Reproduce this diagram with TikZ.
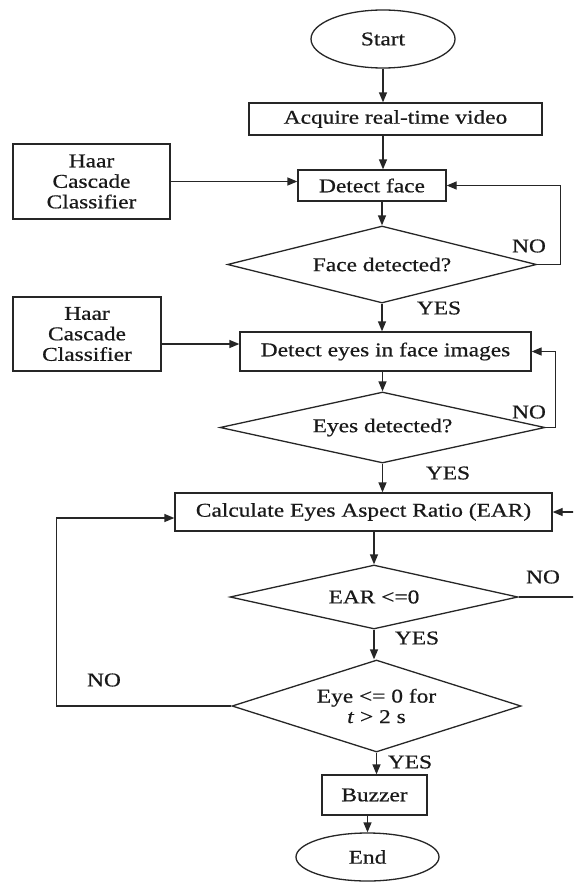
\documentclass[tikz,border=0pt]{standalone}
\usepackage{fontspec}
\setmainfont[FakeStretch=1.2,FakeBold=0.6]{Liberation Serif}
\usetikzlibrary{arrows.meta,shapes.geometric}
\begin{document}
\begin{tikzpicture}[x=1pt,y=-1pt,
  every node/.style={font=\fontsize{19.5}{20.5}\selectfont, text=black!90},
  line width=1.3pt, draw=black!85,
  box/.style={draw, rectangle, inner sep=0pt},
  dec/.style={draw, diamond, inner sep=0pt, align=center},
  term/.style={draw, ellipse, inner sep=0pt},
  arr/.style={-{Triangle[length=10pt,width=8pt]}},
  lbl/.style={inner sep=0pt}]
\useasboundingbox (0,0) rectangle (573,883);
\clip (0,0) rectangle (573,883);
\fill[white] (0,0) rectangle (573,883);

\node[term, minimum width=144pt, minimum height=58pt] (start) at (383,39) {Start};
\node[box, minimum width=293pt, minimum height=32pt] (acq) at (395.5,119) {Acquire real-time video};
\node[box, minimum width=148pt, minimum height=31pt] (face) at (372,185.5) {Detect face};
\node[box, minimum width=157pt, minimum height=75pt, align=center] (haar1) at (91.5,181.5) {Haar\\Cascade\\Classifier};
\node[dec, shape aspect=4.0, minimum width=309pt, minimum height=77pt] (dface) at (382,264.5) {Face detected?};
\node[box, minimum width=148pt, minimum height=74pt, align=center] (haar2) at (87,334) {Haar\\Cascade\\Classifier};
\node[box, minimum width=291pt, minimum height=39pt] (eyes) at (385.5,351.5) {Detect eyes in face images};
\node[dec, shape aspect=4.58, minimum width=325pt, minimum height=71pt] (deyes) at (382.5,427.5) {Eyes detected?};
\node[box, minimum width=377pt, minimum height=38pt] (calc) at (363.5,512) {Calculate Eyes Aspect Ratio (EAR)};
\node[dec, shape aspect=4.5, minimum width=288pt, minimum height=64pt] (ear) at (374,597) {EAR <=0};
\node[dec, shape aspect=3.14, minimum width=289pt, minimum height=92pt] (eye) at (376.5,706) {Eye <= 0 for\\\textit{t} > 2 s};
\node[box, minimum width=105pt, minimum height=40pt] (buzz) at (374.5,795) {Buzzer};
\node[term, minimum width=143pt, minimum height=48pt] (endn) at (367.5,857) {End};

% labels
\node[lbl] (no1) at (529,246) {NO};
\node[lbl] (yes1) at (439,308) {YES};
\node[lbl] (no2) at (529,412) {NO};
\node[lbl] (yes2) at (448,473) {YES};
\node[lbl] (no3) at (543,577) {NO};
\node[lbl] (yes3) at (417,638) {YES};
\node[lbl] (no4) at (104,680) {NO};
\node[lbl] (yes4) at (410,762) {YES};

% main flow
\draw[arr] (start.south) -- (start.south |- acq.north);
\draw[arr] (start.south |- acq.south) -- (start.south |- face.north);
\draw[arr] (dface.north |- face.south) -- (dface.north);
\draw[arr] (dface.south) -- (dface.south |- eyes.north);
\draw[arr] (deyes.north |- eyes.south) -- (deyes.north);
\draw[arr] (deyes.south) -- (deyes.south |- calc.north);
\draw[arr] (ear.north |- calc.south) -- (ear.north);
\draw[arr] (ear.south) -- (ear.south |- eye.north);
\draw[arr] (eye.south) -- (eye.south |- buzz.north);
\draw[arr] (endn.north |- buzz.south) -- (endn.north);

% classifier inputs
\draw[arr] (haar1.east) -- (haar1.east -| face.west);
\draw[arr] ([yshift=-10pt]haar2.east) -- ([yshift=-10pt]haar2.east -| eyes.west);

% loops
\draw[arr] (dface.east) -- ++(23,0) |- (face.east);
\draw[arr] (deyes.east) -- ++(10,0) |- (eyes.east);
\draw[arr] (ear.east) -- ++(70,0) |- (calc.east);
\draw[arr] (eye.west) -- ++(-175,0) |- ([yshift=-6pt]calc.west);
\end{tikzpicture}
\end{document}
